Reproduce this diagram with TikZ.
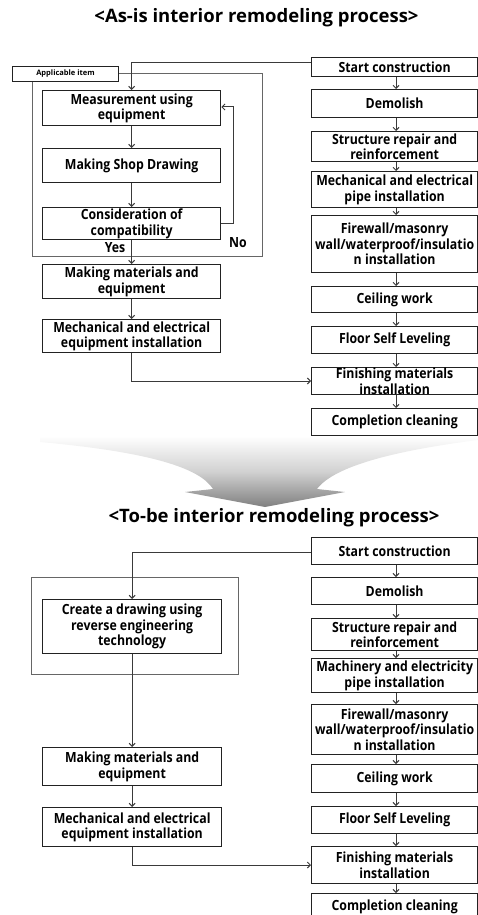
\documentclass[tikz,border=0pt]{standalone}
\usepackage{fontspec}
\setmainfont{Open Sans}[BoldFont={Open Sans Bold}]
\newfontfamily\boxfont{Open Sans Bold}[FakeStretch=0.88]
\usetikzlibrary{arrows.meta}
\definecolor{ink}{HTML}{222222}
\definecolor{lnk}{HTML}{3A3A3A}
\tikzset{
  box/.style={draw=ink, line width=1.3pt, fill=white, anchor=north west, inner sep=0pt,
    align=center, font=\boxfont\fontsize{14}{15.5}\selectfont},
  frame/.style={draw=black!60, line width=1pt},
  conn/.style={draw=lnk, line width=1pt},
  arr/.style={conn, -{Straight Barb[length=3pt,width=6pt]}},
  ttl/.style={font=\bfseries\fontsize{18.5}{22}\selectfont},
  lbl/.style={font=\boxfont\fontsize{14}{15}\selectfont, inner sep=0pt}
}
\newcommand\bx[6]{\node[box, minimum width=#4pt, minimum height=#5pt] (#1) at (#2,#3) {#6};}
\begin{document}
\begin{tikzpicture}[x=1pt,y=-1pt]
\useasboundingbox (0,0) rectangle (478,915);
% ---------- big arrow ----------
\shade[top color=white, bottom color=black!50, middle color=black!18]
  (40,436) -- (40,442) .. controls (150,452) and (200,468) .. (213,489)
  -- (185,492) -- (265,507) -- (345,492) -- (317,489)
  .. controls (335,465) and (400,450) .. (478,440) -- (478,436) -- cycle;
% ---------- top ----------
\node[ttl] (t1) at (256.5,18) {<As-is interior remodeling process>};
% frame
\draw[frame] (32,74) rectangle (262,256);
\node[draw=ink, line width=1pt, fill=white, anchor=north west, minimum width=106pt, minimum height=15pt, inner sep=0pt, font=\bfseries\fontsize{7.5}{9}\selectfont] (app) at (12,66) {Applicable item};
% right column
\bx{s1}{311}{57}{166}{19}{Start construction}
\bx{d1}{311}{89}{166}{28}{Demolish}
\bx{r1}{311}{131}{166}{30}{Structure repair and\\reinforcement}
\bx{p1}{311}{171}{166}{36}{Mechanical and electrical\\pipe installation}
\bx{f1}{311}{215}{166}{57}{Firewall/masonry\\wall/waterproof/insulatio\\n installation}
\bx{c1}{311}{286}{166}{26}{Ceiling work}
\bx{l1}{311}{326}{166}{27}{Floor Self Leveling}
\bx{m1}{311}{367}{166}{27}{Finishing materials\\installation}
\bx{e1}{311}{408}{166}{27}{Completion cleaning}
% left column
\bx{a1}{42}{90}{178}{35}{Measurement using\\equipment}
\bx{b1}{42}{148}{178}{34}{Making Shop Drawing}
\bx{k1}{42}{207}{178}{32}{Consideration of\\compatibility}
\bx{g1}{42}{264}{178}{34}{Making materials and\\equipment}
\bx{h1}{42}{319}{178}{33}{Mechanical and electrical\\equipment installation}
\node[lbl] (yes1) at (115,248) {Yes};
\node[lbl] (no1) at (238,243) {No};
% connectors
\draw[arr] (s1.west|-0,63) -| (a1.north);
\draw[arr] (a1) -- (b1);
\draw[arr] (b1) -- (k1);
\draw[arr] (k1) -- (g1);
\draw[arr] (g1) -- (h1);
\coordinate (fb1) at (233,223);
\coordinate (fb2) at (233,107);
\draw[arr] (k1.east|-fb1) -- (fb1) -- (fb2) -- (a1.east|-fb2);
\draw[arr] (h1.south) |- (m1.west|-0,381);
\foreach \u/\v in {s1/d1,d1/r1,r1/p1,p1/f1,f1/c1,c1/l1,l1/m1,m1/e1}
  \draw[arr] (\u.south-|396,0) -- (\v.north-|396,0);
% ---------- bottom ----------
\node[ttl] (t2) at (274,518) {<To-be interior remodeling process>};
\draw[frame] (31,577) rectangle (238,674);
\bx{s2}{311}{537}{166}{27}{Start construction}
\bx{d2}{311}{577}{166}{27}{Demolish}
\bx{r2}{311}{618}{166}{32}{Structure repair and\\reinforcement}
\bx{p2}{311}{658}{166}{34}{Machinery and electricity\\pipe installation}
\bx{f2}{311}{704}{166}{50}{Firewall/masonry\\wall/waterproof/insulatio\\n installation}
\bx{c2}{311}{764}{166}{28}{Ceiling work}
\bx{l2}{311}{806}{166}{27}{Floor Self Leveling}
\bx{m2}{311}{846}{166}{37}{Finishing materials\\installation}
\bx{e2}{311}{893}{166}{27}{Completion cleaning}
\bx{a2}{42}{599}{179}{54}{Create a drawing using\\reverse engineering\\technology}
\bx{g2}{42}{747}{179}{38}{Making materials and\\equipment}
\bx{h2}{42}{807}{179}{39}{Mechanical and electrical\\equipment installation}
\draw[arr] (s2.west|-0,552) -| (a2.north);
\draw[arr] (a2) -- (g2);
\draw[arr] (g2) -- (h2);
\draw[arr] (h2.south) |- (m2.west|-0,865);
\foreach \u/\v in {s2/d2,d2/r2,r2/p2,p2/f2,f2/c2,c2/l2,l2/m2,m2/e2}
  \draw[arr] (\u.south-|396,0) -- (\v.north-|396,0);
\end{tikzpicture}
\end{document}
